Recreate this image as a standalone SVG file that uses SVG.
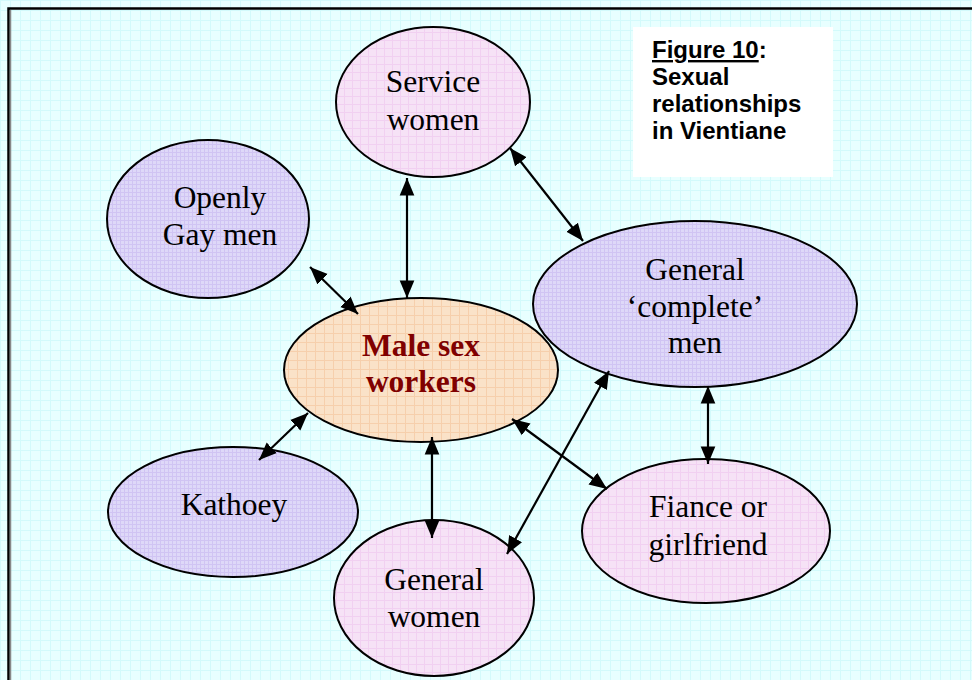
<svg xmlns="http://www.w3.org/2000/svg" width="972" height="680" viewBox="0 0 972 680">
<defs>
<pattern id="bg" width="10" height="10" patternUnits="userSpaceOnUse">
<rect width="10" height="10" fill="#e8ffff"/>
<path d="M0 0.5H10M0.5 0V10" stroke="#d3fafb" stroke-width="1"/>
</pattern>
<pattern id="pink" width="8" height="8" patternUnits="userSpaceOnUse">
<rect width="8" height="8" fill="#f6e2f6"/>
<path d="M0 0.5H8M0.5 0V8" stroke="#f1d0f1" stroke-width="1"/>
</pattern>
<pattern id="lav" width="4" height="4" patternUnits="userSpaceOnUse">
<rect width="4" height="4" fill="#ded8f8"/>
<path d="M0 0.5H4M0.5 0V4" stroke="#d0c4f3" stroke-width="1"/>
</pattern>
<pattern id="peach" width="9" height="9" patternUnits="userSpaceOnUse">
<rect width="9" height="9" fill="#fae2c8"/>
<path d="M0 0.5H9M0.5 0V9" stroke="#f6cfac" stroke-width="1"/>
</pattern>
<marker id="ah" viewBox="0 0 12 10" refX="12" refY="5" markerWidth="8" markerHeight="8" markerUnits="strokeWidth" orient="auto-start-reverse">
<path d="M0 0L12 5L0 10Z" fill="#000"/>
</marker>
<style>
.n{stroke:#000;stroke-width:2}
.t{font-family:"Liberation Serif","Times New Roman",serif;font-size:31.5px;fill:#000;text-anchor:middle}
.b{font-weight:bold;fill:#800000}
.c{stroke:#000;stroke-width:2.2;fill:none;marker-start:url(#ah);marker-end:url(#ah)}
.f{font-family:"Liberation Sans",Arial,sans-serif;font-size:24px;font-weight:bold;fill:#000}
</style>
</defs>
<rect x="0" y="0" width="972" height="680" fill="url(#bg)"/>
<rect x="8.5" y="8.5" width="980" height="700" fill="none" stroke="#000" stroke-width="2.5"/>
<line x1="10.5" y1="10" x2="10.5" y2="680" stroke="#888" stroke-width="1.5"/>

<g id="caption">
<rect x="633" y="27" width="200" height="150" fill="#fff"/>
<text class="f" x="652" y="58"><tspan text-decoration="underline">Figure 10</tspan>:</text>
<text class="f" x="652" y="85">Sexual</text>
<text class="f" x="652" y="112">relationships</text>
<text class="f" x="652" y="139">in Vientiane</text>
</g>

<g id="service-women">
<ellipse class="n" cx="433" cy="102" rx="97" ry="75" fill="url(#pink)"/>
<text class="t" x="433" y="92">Service</text>
<text class="t" x="433" y="130">women</text>
</g>
<g id="openly-gay-men">
<ellipse class="n" cx="208" cy="219" rx="101" ry="79" fill="url(#lav)"/>
<text class="t" x="220" y="208">Openly</text>
<text class="t" x="220" y="245">Gay men</text>
</g>
<g id="male-sex-workers">
<ellipse class="n" cx="421" cy="370" rx="137" ry="72" fill="url(#peach)"/>
<text class="t b" x="421" y="356">Male sex</text>
<text class="t b" x="421" y="392">workers</text>
</g>
<g id="general-complete-men">
<ellipse class="n" cx="695" cy="304" rx="162" ry="83" fill="url(#lav)"/>
<text class="t" x="695" y="280">General</text>
<text class="t" x="695" y="317">‘complete’</text>
<text class="t" x="695" y="353">men</text>
</g>
<g id="kathoey">
<ellipse class="n" cx="233" cy="512" rx="125" ry="65" fill="url(#lav)"/>
<text class="t" x="234" y="515">Kathoey</text>
</g>
<g id="general-women">
<ellipse class="n" cx="434" cy="598" rx="100" ry="78" fill="url(#pink)"/>
<text class="t" x="434" y="590">General</text>
<text class="t" x="434" y="627">women</text>
</g>
<g id="fiance-or-girlfriend">
<ellipse class="n" cx="706" cy="531" rx="124" ry="72" fill="url(#pink)"/>
<text class="t" x="708" y="517">Fiance or</text>
<text class="t" x="708" y="555">girlfriend</text>
</g>

<g id="connectors">
<line class="c" x1="407" y1="178" x2="407" y2="298"/>
<line class="c" x1="310" y1="267" x2="358" y2="314"/>
<line class="c" x1="510" y1="148" x2="583" y2="241"/>
<line class="c" x1="708" y1="386" x2="708" y2="464"/>
<line class="c" x1="512" y1="419" x2="607" y2="489"/>
<line class="c" x1="609" y1="371" x2="507" y2="554"/>
<line class="c" x1="432" y1="437" x2="432" y2="538"/>
<line class="c" x1="308" y1="413" x2="259" y2="460"/>
</g>
</svg>
